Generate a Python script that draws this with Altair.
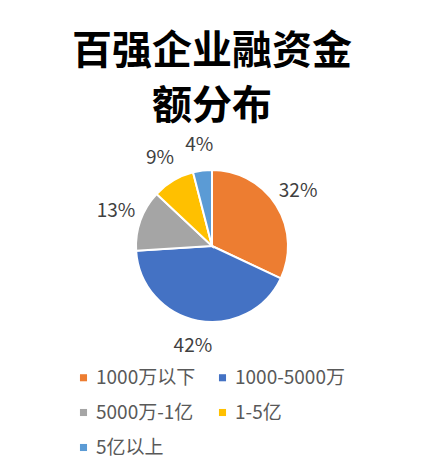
import altair as alt
import pandas as pd

categories = ["1000万以下", "1000-5000万", "5000万-1亿", "1-5亿", "5亿以上"]
shares = [32, 42, 13, 9, 4]
labels = ["32%", "42%", "13%", "9%", "4%"]
colors = ["#ED7D31", "#4472C4", "#A5A5A5", "#FFC000", "#5B9BD5"]
# legend entries fill column by column: arrange so rows read left-to-right
legend_order = [categories[i] for i in (0, 2, 4, 1, 3)]

df = pd.DataFrame({
    "cat": categories,
    "val": shares,
    "lab": labels,
    "ord": list(range(len(categories))),
})

FONT = "Noto Sans CJK SC"
CX, CY = 204, 113

base = alt.Chart(df).encode(
    theta=alt.Theta("val:Q", stack=True),
    order=alt.Order("ord:Q"),
)

pie = base.mark_arc(outerRadius=76, stroke="white", strokeWidth=2).encode(
    x=alt.value(CX),
    y=alt.value(CY),
    color=alt.Color(
        "cat:N",
        scale=alt.Scale(domain=categories, range=colors),
        legend=alt.Legend(
            title=None,
            orient="none",
            legendX=66,
            legendY=235,
            columns=2,
            values=legend_order,
            symbolType="square",
            symbolSize=50,
            symbolStrokeWidth=0,
            labelFontSize=19,
            labelFont=FONT,
            labelColor="#595959",
            labelOffset=3,
            rowPadding=15,
            columnPadding=17,
            labelLimit=300,
        ),
    ),
)

text = base.mark_text(radius=102, fontSize=19, font=FONT, color="#404040").encode(
    x=alt.value(CX),
    y=alt.value(CY),
    text="lab:N",
)

chart = (
    alt.layer(pie, text)
    .properties(
        width=408,
        height=332,
        background="white",
        padding={"top": 125, "left": 0, "right": 0, "bottom": 0},
        autosize=alt.AutoSizeParams(type="none"),
        title=alt.TitleParams(
            text=["百强企业融资金", "额分布"],
            font=FONT,
            fontSize=40,
            fontWeight="bold",
            color="#000000",
            anchor="middle",
            lineHeight=55,
            offset=6,
        ),
    )
    .configure_view(strokeWidth=0, stroke="transparent")
)

chart.save("out.html", embed_options={"renderer": "svg", "actions": False})
